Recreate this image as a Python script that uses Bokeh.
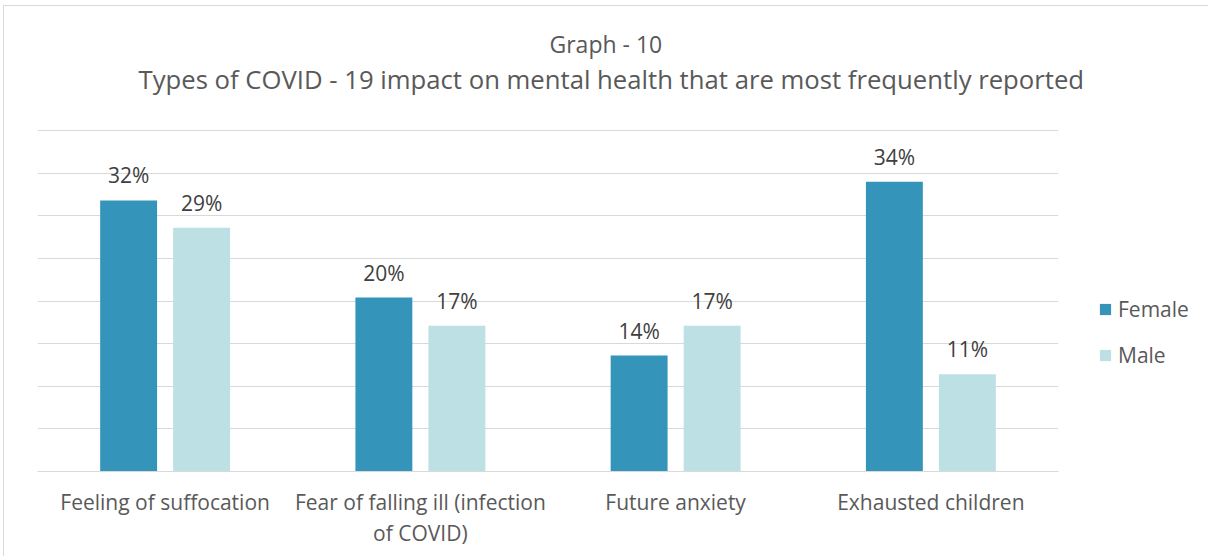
from bokeh.plotting import figure
from bokeh.models import (ColumnDataSource, Title, Legend, LegendItem, FixedTicker, Range1d,
                          LinearAxis)
from bokeh.core.properties import value
from bokeh.embed import file_html
from bokeh.resources import INLINE

categories = ["Feeling of suffocation", "Fear of falling ill (infection\nof COVID)",
              "Future anxiety", "Exhausted children"]
female = [31.8, 20.4, 13.6, 34.0]
male = [28.6, 17.1, 17.1, 11.4]
female_labels = ["32%", "20%", "14%", "34%"]
male_labels = ["29%", "17%", "17%", "11%"]
y_ticks = [0, 5, 10, 15, 20, 25, 30, 35, 40]

FONT = "Open Sans"
C_F = "#3594BA"
C_M = "#BDE0E4"
TXT = "#595959"
GRID = "#d9d9d9"
OFF = 0.143
BW = 0.223

centers = [i + 0.5 for i in range(len(categories))]
src = ColumnDataSource(dict(
    xf=[c - OFF for c in centers], xm=[c + OFF for c in centers],
    female=female, male=male, fl=female_labels, ml=male_labels))

p = figure(x_range=Range1d(0, len(categories)), y_range=Range1d(0, y_ticks[-1] + 0.12),
           frame_width=1021, frame_height=342, output_backend="svg", toolbar_location=None,
           min_border_left=37, min_border_right=149, min_border_top=129, min_border_bottom=85,
           x_axis_location=None)
p.outline_line_color = None
p.background_fill_color = "white"
p.border_fill_alpha = 0
p.styles = {"background": (f"linear-gradient({GRID},{GRID}) 3px 5px / 1px 100% no-repeat, "
                           f"linear-gradient({GRID},{GRID}) 3px 5px / 100% 1px no-repeat, white")}

rf = p.vbar(x="xf", top="female", width=BW, source=src, fill_color=C_F, line_color=None)
rm = p.vbar(x="xm", top="male", width=BW, source=src, fill_color=C_M, line_color=None)

for xcol, ycol, tcol in (("xf", "female", "fl"), ("xm", "male", "ml")):
    p.text(x=xcol, y=ycol, text=tcol, source=src,
           text_align="center", text_baseline="middle", y_offset=-25,
           text_font=value(FONT), text_font_size="21px", text_color="#404040")

p.yaxis.visible = False
p.ygrid.ticker = FixedTicker(ticks=y_ticks)
p.ygrid.grid_line_color = GRID
p.ygrid.grid_line_width = 1
p.xgrid.grid_line_color = None

# category labels: first lines on the main axis, continuation lines on a second axis
lines = [c.split("\n") for c in categories]
ax1 = LinearAxis(ticker=FixedTicker(ticks=centers),
                 major_label_overrides={c: l[0] for c, l in zip(centers, lines)})
extra = [(c, l[1]) for c, l in zip(centers, lines) if len(l) > 1]
ax2 = LinearAxis(ticker=FixedTicker(ticks=[c for c, _ in extra]),
                 major_label_overrides={c: t for c, t in extra})
for ax, standoff in ((ax1, 16), (ax2, 0)):
    ax.major_tick_line_color = None
    ax.minor_tick_line_color = None
    ax.major_tick_in = 0
    ax.major_tick_out = 0
    ax.minor_tick_in = 0
    ax.minor_tick_out = 0
    ax.major_label_text_font = FONT
    ax.major_label_text_font_size = "21px"
    ax.major_label_text_color = TXT
    ax.major_label_standoff = standoff
ax1.axis_line_color = GRID
ax2.axis_line_color = None
p.add_layout(ax1, "below")
p.add_layout(ax2, "below")

# spacer between the frame and the subtitle
p.add_layout(Title(text=" ", text_font_size="1px", standoff=30), "above")
p.add_layout(Title(text="Types of COVID - 19 impact on mental health that are most frequently reported",
                   align="left", offset=101, standoff=0, text_font=FONT, text_font_size="25.7px",
                   text_font_style="normal", text_color=TXT), "above")
p.add_layout(Title(text="Graph - 10", align="left", offset=512, standoff=0, text_font=FONT,
                   text_font_size="23px", text_font_style="normal", text_color=TXT), "above")

legend = Legend(items=[LegendItem(label="Female", renderers=[rf]),
                       LegendItem(label="Male", renderers=[rm])],
                label_text_font=FONT, label_text_font_size="21px", label_text_color=TXT,
                glyph_width=14, glyph_height=14, label_height=26, label_standoff=6, spacing=18,
                padding=0, margin=0, border_line_color=None, background_fill_alpha=0,
                location=(40, 102))
p.add_layout(legend, "right")

open("out.html", "w").write(file_html(p, INLINE))
